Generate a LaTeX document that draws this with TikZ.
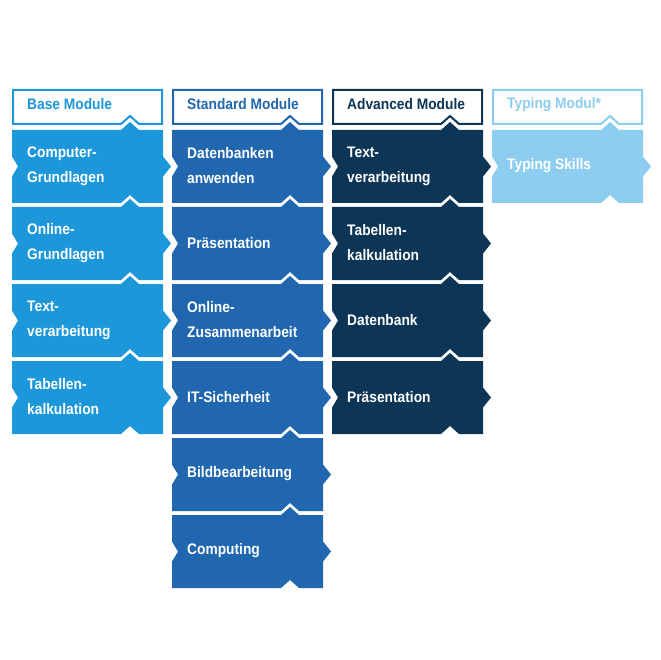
\documentclass[tikz,border=0pt]{standalone}
\usepackage{fontspec}
\setmainfont{Liberation Sans}[FakeStretch=0.9]
\usetikzlibrary{positioning}
\definecolor{modBase}{HTML}{1C97D9}
\definecolor{modStd}{HTML}{2067AF}
\definecolor{modAdv}{HTML}{0D3556}
\definecolor{modType}{HTML}{8DCDEF}
\tikzset{
    x=1pt, y=-1pt,
    tiletext/.style={anchor=west, text=white, align=left, inner sep=0pt, font=\fontsize{15.3}{25}\selectfont\bfseries},
    headtext/.style={anchor=west, align=left, inner sep=0pt, font=\fontsize{15.3}{25}\selectfont\bfseries},
    headbox/.style={line width=2pt, fill=white, line join=miter}
}
% tile: x, top, colour, name, label
\newcommand{\modtile}[5]{%
  \fill[#3] (#1,#2) -- ++(109,0) -- ++(9,-8) -- ++(9,8) -- ++(24,0) -- ++(0,26.5) -- ++(8,10) -- ++(-8,10) -- ++(0,26.5)
     -- ++(-24,0) -- ++(-9,-8) -- ++(-9,8) -- ++(-109,0) -- ++(0,-26.5) -- ++(6,-10) -- ++(-6,-10) -- cycle;
  \node[tiletext] (#4) at (#1+15,#2+36) {#5};}
% header: x, colour, name, label
\newcommand{\modhead}[4]{%
  \draw[headbox, draw=#2] (#1+1,90) -- ++(149,0) -- ++(0,34) -- ++(-23,0) -- ++(-9,-8) -- ++(-9,8) -- ++(-108,0) -- cycle;
  \node[headtext, text=#2] (#3) at (#1+15,104.5) {#4};}

\begin{document}
\begin{tikzpicture}
\useasboundingbox (0,0) rectangle (660,660);
% headers
\modhead{12}{modBase}{hbase}{Base Module}
\modhead{172}{modStd}{hstd}{Standard Module}
\modhead{332}{modAdv}{hadv}{Advanced Module}
\modhead{492}{modType}{htype}{Typing Modul*}
% base
\modtile{12}{130}{modBase}{b1}{Computer-\\Grundlagen}
\modtile{12}{207}{modBase}{b2}{Online-\\Grundlagen}
\modtile{12}{284}{modBase}{b3}{Text-\\verarbeitung}
\modtile{12}{361}{modBase}{b4}{Tabellen-\\kalkulation}
% standard
\modtile{172}{130}{modStd}{s1}{Datenbanken\\anwenden}
\modtile{172}{207}{modStd}{s2}{Präsentation}
\modtile{172}{284}{modStd}{s3}{Online-\\Zusammenarbeit}
\modtile{172}{361}{modStd}{s4}{IT-Sicherheit}
\modtile{172}{438}{modStd}{s5}{Bildbearbeitung}
\modtile{172}{515}{modStd}{s6}{Computing}
% advanced
\modtile{332}{130}{modAdv}{a1}{Text-\\verarbeitung}
\modtile{332}{207}{modAdv}{a2}{Tabellen-\\kalkulation}
\modtile{332}{284}{modAdv}{a3}{Datenbank}
\modtile{332}{361}{modAdv}{a4}{Präsentation}
% typing
\modtile{492}{130}{modType}{t1}{Typing Skills}
\end{tikzpicture}
\end{document}
